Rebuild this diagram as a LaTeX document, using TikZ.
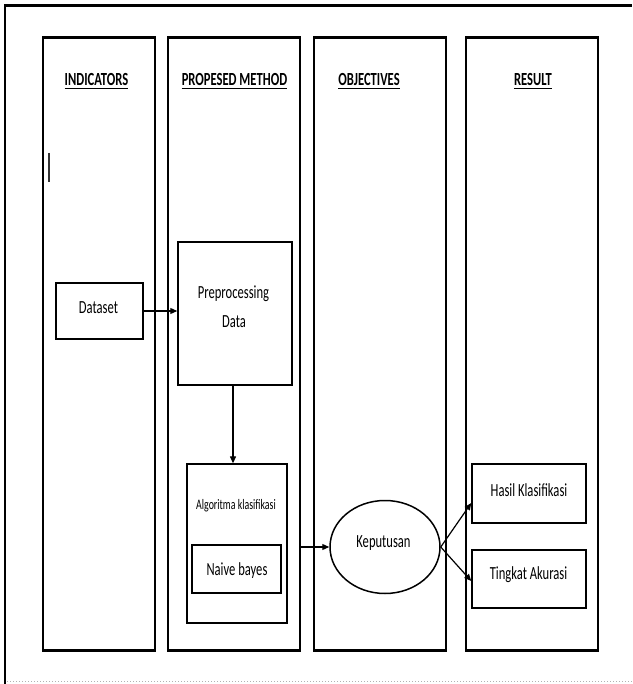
\documentclass[tikz,border=0pt]{standalone}
\usepackage{fontspec}
\setmainfont{Carlito}[FakeStretch=0.68]
\usetikzlibrary{shapes.geometric,arrows.meta}
\tikzset{
  colbox/.style={draw, line width=1.6pt, minimum width=#1, minimum height=612pt, inner sep=0pt},
  coltitle/.style={inner sep=0pt, anchor=base, font=\bfseries\fontsize{18.5}{21}\selectfont},
  stepbox/.style={draw, line width=1.5pt, inner sep=0pt},
  lbl/.style={inner sep=0pt, anchor=base, font=\fontsize{18.5}{21}\selectfont},
  smalllbl/.style={inner sep=0pt, anchor=base, font=\fontsize{14.5}{17}\selectfont},
  arr/.style={line width=1.2pt, -{Triangle[length=7pt,width=6pt]}},
  uline/.style={line width=1.3pt}
}
\begin{document}
\begin{tikzpicture}[x=1pt,y=-1pt]
\useasboundingbox (0,0) rectangle (632,684);
\fill[white] (0,0) rectangle (632,684);
% outer frame
\draw[line width=3pt] (4,6) -- (632,6);
\draw[line width=2pt] (5,5) -- (5,684);
\draw[gray!60, dotted, line width=1pt] (7,681) -- (632,681);
% cursor mark
\draw[line width=1.2pt, black!80] (49,153) -- (49,182);
% columns
\node[colbox=112pt] (c1) at (99,344) {};
\node[colbox=132pt] (c2) at (234,344) {};
\node[colbox=132pt] (c3) at (380,344) {};
\node[colbox=132pt] (c4) at (532,344) {};
\foreach \c in {c1,c2,c3,c4}{
  \draw[line width=3pt] (\c.north west) -- (\c.north east);
  \draw[line width=3pt] (\c.south west) -- (\c.south east);
}
% titles
\node[coltitle] (t1) at (96.5,86) {INDICATORS};
\node[coltitle] (t2) at (234.5,86) {PROPESED METHOD};
\node[coltitle] (t3) at (369,86) {OBJECTIVES};
\node[coltitle] (t4) at (533,86) {RESULT};
\foreach \t in {t1,t2,t3,t4}{
  \draw[uline] ([yshift=-2.5pt]\t.base west) -- ([yshift=-2.5pt]\t.base east);
}
% boxes
\node[stepbox, minimum width=87pt, minimum height=56pt] (ds) at (99.5,311) {};
\node[lbl] (dsl) at (98.5,313) {Dataset};
\node[stepbox, minimum width=114pt, minimum height=143pt] (pp) at (235,313.5) {};
\node[lbl] (ppl1) at (233.5,298) {Preprocessing};
\node[lbl] (ppl2) at (234,327) {Data};
\node[stepbox, line width=1.3pt, minimum width=100pt, minimum height=159pt] (alg) at (237,543.5) {};
\node[smalllbl] (algl) at (236,509) {Algoritma klasifikasi};
\node[stepbox, line width=1.7pt, minimum width=89pt, minimum height=48pt] (nb) at (236.5,569) {};
\node[lbl] (nbl) at (237,575) {Naive bayes};
\node[draw, ellipse, line width=1.5pt, minimum width=110pt, minimum height=93pt, inner sep=0pt] (kep) at (385,547) {};
\node[lbl] (kepl) at (383.5,547) {Keputusan};
\node[stepbox, minimum width=114pt, minimum height=59pt] (hk) at (529,493.5) {};
\node[lbl] (hkl) at (529,496) {Hasil Klasifikasi};
\node[stepbox, minimum width=114pt, minimum height=58pt] (ta) at (529,579) {};
\node[lbl] (tal) at (528.5,579) {Tingkat Akurasi};
% connectors
\draw[arr] (ds.east) -- (ds.east -| pp.west);
\draw[arr] (pp.south -| 233,0) -- (alg.north -| 233,0);
\coordinate (nbout) at (c2.east |- kep.west);
\draw[arr] (nbout) -- (kep.west);
\draw[arr] (kep.east) -- ([yshift=-9.5pt]hk.west);
\draw[arr] (kep.east) -- ([yshift=-2pt]ta.west);
\end{tikzpicture}
\end{document}
